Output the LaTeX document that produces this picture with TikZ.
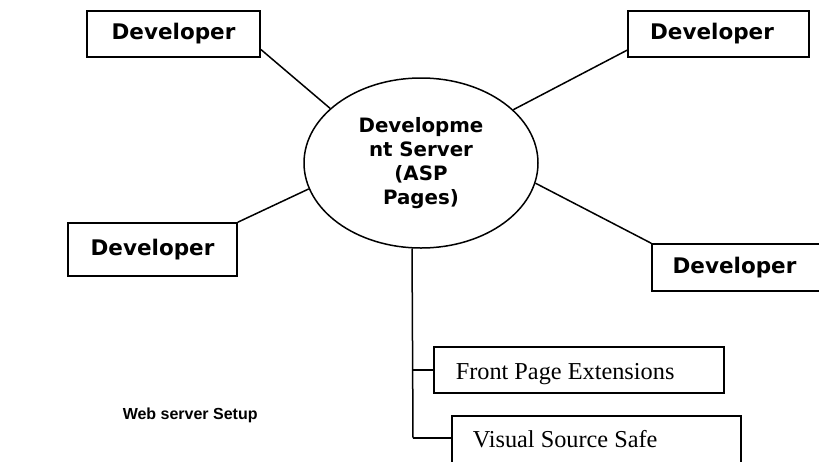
\documentclass[tikz,border=0pt]{standalone}
\usepackage{fontspec}
\setmainfont{Liberation Serif}
\newfontfamily\devfont{DejaVu Sans}
\newfontfamily\capfont{Liberation Sans}
\usetikzlibrary{shapes.geometric}
\begin{document}
\begin{tikzpicture}[x=1pt,y=-1pt, line width=1.5pt,
  devbox/.style={draw, rectangle, inner sep=0pt, font=\devfont\bfseries\fontsize{21.5}{24}\selectfont},
  toolbox/.style={draw, rectangle, inner sep=0pt},
  tooltext/.style={inner sep=0pt, anchor=base west, font=\fontsize{24.3}{27}\selectfont},
  conn/.style={draw, line width=1.5pt}]
\useasboundingbox (0,0) rectangle (819,461);
\clip (0,0) rectangle (819,461);
\node[draw, ellipse, minimum width=234pt, minimum height=170pt, inner sep=0pt] (srv) at (421,163) {};
\node[align=center, inner sep=0pt, font=\devfont\bfseries\fontsize{19.8}{24}\selectfont] (srvtext) at (421,163.5) {Developme\\nt Server\\(ASP\\Pages)};
\node[devbox, minimum width=173pt, minimum height=46pt] (dev1) at (173.5,34) {Developer};
\node[devbox, minimum width=181pt, minimum height=46pt] (dev2) at (718.5,34) {Developer\hspace*{13pt}};
\node[devbox, minimum width=169pt, minimum height=53pt] (dev3) at (152.5,249.5) {Developer};
\node[devbox, minimum width=172pt, minimum height=47pt] (dev4) at (738,267.5) {Developer\hspace*{7pt}};
\node[toolbox, minimum width=290pt, minimum height=46pt] (fpe) at (579,370) {};
\node[toolbox, minimum width=289pt, minimum height=80pt] (vss) at (596.5,456) {};
\node[tooltext] (fpetext) at (455,379) {Front Page Extensions};
\node[tooltext] (vsstext) at (472,447) {Visual Source Safe};
\node[inner sep=0pt, anchor=base west, font=\capfont\bfseries\fontsize{16}{19}\selectfont] (title) at (122,419) {Web server Setup};
\coordinate (trunkend) at (413,438);
\draw[conn] (dev1.-10) -- (srv.149);
\draw[conn] (dev2.190) -- (srv.30);
\draw[conn] (dev3.north east) -- (srv.193.3);
\draw[conn] (dev4.north west) -- (srv.-10.6);
\draw[conn] (srv.264.6) -- (trunkend);
\draw[conn] (trunkend |- fpe.west) -- (fpe.west);
\draw[conn] (trunkend) -- (vss.west |- trunkend);
\end{tikzpicture}
\end{document}
